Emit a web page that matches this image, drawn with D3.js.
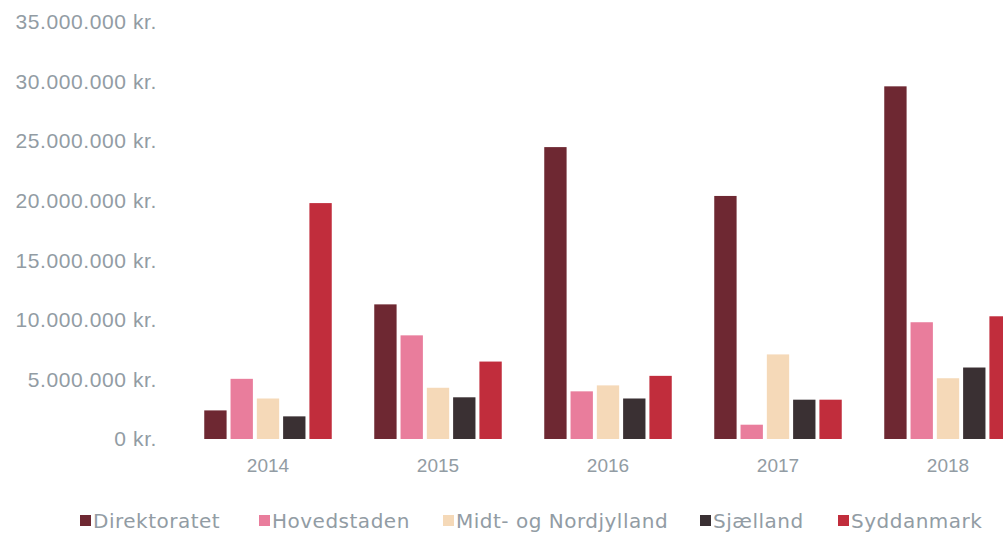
<!DOCTYPE html>
<html>
<head>
<meta charset="utf-8">
<script src="https://cdnjs.cloudflare.com/ajax/libs/d3/7.8.5/d3.min.js"></script>
<style>
	body { margin: 0; background: #ffffff; overflow: hidden; }
	svg { display: block; font-family: "DejaVu Sans", sans-serif; }
	.tick text { fill: #929ca4; }
</style>
</head>
<body>
<div id="chart"></div>
<script>
var years = ['2014', '2015', '2016', '2017', '2018'];
var regions = ['Direktoratet', 'Hovedstaden', 'Midt- og Nordjylland', 'Sjælland', 'Syddanmark'];
var colors = ['#6e2832', '#e97d9c', '#f5d9b8', '#3a3033', '#c12d3c'];

// values in kr. per region, one per year
var direktoratet = [2400000, 11300000, 24500000, 20400000, 29600000];
var hovedstaden = [5050000, 8700000, 4000000, 1200000, 9800000];
var midtNord = [3400000, 4300000, 4500000, 7100000, 5100000];
var sjaelland = [1900000, 3500000, 3400000, 3300000, 6000000];
var syddanmark = [19800000, 6500000, 5300000, 3300000, 10300000];

var yTicks = [0, 5000000, 10000000, 15000000, 20000000, 25000000, 30000000, 35000000];

var width = 1003;
var height = 533;
var series = [direktoratet, hovedstaden, midtNord, sjaelland, syddanmark];

var svg = d3
	.select('#chart')
	.append('svg')
	.attr('width', width)
	.attr('height', height);

var y = d3
	.scaleLinear()
	.domain([0, 35000000])
	.range([439, 22]);

// the plot runs past the right edge, like the cropped original
var x0 = d3
	.scaleBand()
	.domain(years)
	.range([183, 1033])
	.paddingInner(0.25)
	.paddingOuter(0.125);

var x1 = d3
	.scaleBand()
	.domain(regions)
	.range([0, x0.bandwidth()])
	.paddingInner(0.15);

var fmt = function(d){
	return d3.format(',')(d).replace(/,/g, '.') + ' kr.';
};

// Y AXIS
var yAxis = svg
	.append('g')
	.attr('transform', 'translate(157,0)')
	.call(d3.axisLeft(y).tickValues(yTicks).tickFormat(fmt).tickSize(0).tickPadding(0));
yAxis.select('.domain').remove();
yAxis.selectAll('text')
	.style('font-size', '21px')
	.style('letter-spacing', '0.6px');

// X AXIS
var xAxis = svg
	.append('g')
	.attr('transform', 'translate(0,' + 455 + ')')
	.call(d3.axisBottom(x0).tickSize(0).tickPadding(3));
xAxis.select('.domain').remove();
xAxis.selectAll('text')
	.style('font-size', '19px');

// BARS
var rows = [];
years.map(function(yr, i){
	regions.map(function(r, j){
		rows.push({ year: yr, region: r, value: series[j][i], color: colors[j] });
	});
});

svg
	.append('g')
	.selectAll('rect')
	.data(rows)
	.enter()
	.append('rect')
	.attr('x', function(d){ return x0(d.year) + x1(d.region); })
	.attr('y', function(d){ return y(d.value); })
	.attr('width', x1.bandwidth())
	.attr('height', function(d){ return y(0) - y(d.value); })
	.attr('fill', function(d){ return d.color; });

// LEGEND
var legendX = [80, 259, 443, 700, 838];
var legend = svg
	.append('g')
	.selectAll('g')
	.data(regions)
	.enter()
	.append('g')
	.attr('transform', function(d, i){ return 'translate(' + legendX[i] + ',' + 521 + ')'; });

legend
	.append('rect')
	.attr('x', 0)
	.attr('y', -6)
	.attr('width', 11)
	.attr('height', 11)
	.attr('fill', function(d, i){ return colors[i]; });

legend
	.append('text')
	.attr('x', 13)
	.attr('y', 0)
	.attr('dy', '0.35em')
	.style('font-size', '20px')
	.style('letter-spacing', '0.5px')
	.style('fill', '#929ca4')
	.text(function(d){ return d; });
</script>
</body>
</html>
